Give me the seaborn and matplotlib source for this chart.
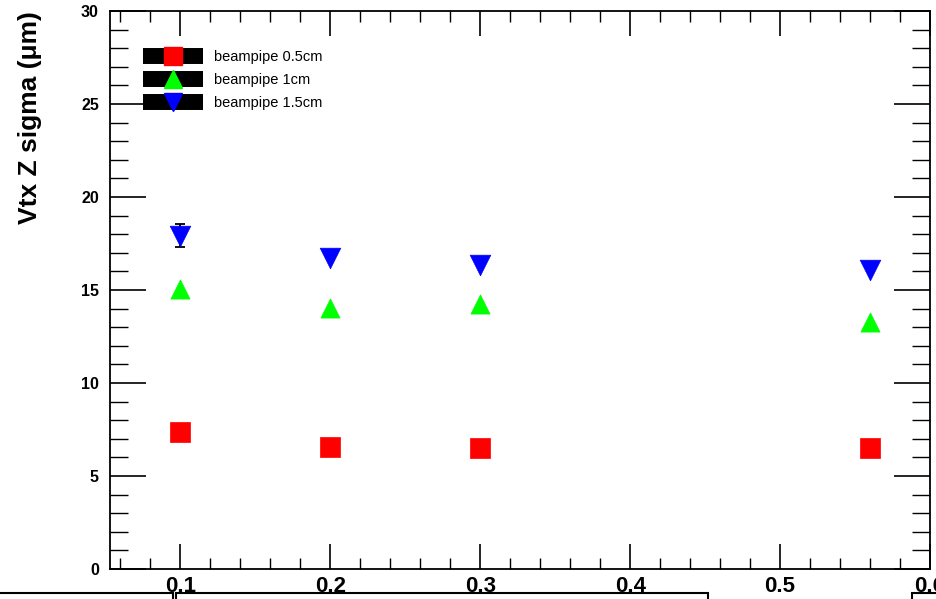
import matplotlib
matplotlib.use("Agg")
import matplotlib.pyplot as plt
import matplotlib.patches as mpatches
from matplotlib.lines import Line2D
from matplotlib.ticker import MultipleLocator
import seaborn as sns
import pandas as pd

# ---- data ----
x_vals = [0.1, 0.2, 0.3, 0.56]
sigma_05 = [7.38, 6.57, 6.52, 6.52]
sigma_10 = [15.08, 14.05, 14.27, 13.3]
sigma_15 = [17.93, 16.7, 16.37, 16.05]
err_05 = [0.0, 0.0, 0.0, 0.0]
err_10 = [0.0, 0.0, 0.0, 0.0]
err_15 = [0.62, 0.0, 0.0, 0.0]
series_names = ["beampipe 0.5cm", "beampipe 1cm", "beampipe 1.5cm"]
colors = {"beampipe 0.5cm": "#ff0000", "beampipe 1cm": "#00ff00", "beampipe 1.5cm": "#0000ff"}
markers = {"beampipe 0.5cm": "s", "beampipe 1cm": "^", "beampipe 1.5cm": "v"}
y_label = "Vtx Z sigma (\u03bcm)"

rows = []
for name, ys, es in zip(series_names, [sigma_05, sigma_10, sigma_15], [err_05, err_10, err_15]):
    for xv, yv, ev in zip(x_vals, ys, es):
        rows.append({"x": xv, "y": yv, "err": ev, "series": name})
df = pd.DataFrame(rows)

sns.set_style("ticks")
plt.rcParams['font.family'] = ['Liberation Sans', 'DejaVu Sans']
plt.rcParams.update({"text.color": "black", "axes.labelcolor": "black",
                     "xtick.color": "black", "ytick.color": "black",
                     "axes.edgecolor": "black"})

fig = plt.figure(figsize=(9.37, 5.99), dpi=100)
ax = fig.add_axes([110 / 937, 30 / 599, 820 / 937, 558 / 599])

# error bars (only where non-zero)
for name in series_names:
    sub = df[(df.series == name) & (df.err > 0)]
    if len(sub):
        ax.errorbar(sub.x, sub.y, yerr=sub.err, fmt="none", ecolor="black",
                    elinewidth=1.3, capsize=3.5, capthick=1.3, zorder=2)

sizes = {"beampipe 0.5cm": 190, "beampipe 1cm": 190, "beampipe 1.5cm": 220}
for name in series_names:
    sub = df[df.series == name]
    sns.scatterplot(data=sub, x="x", y="y", color=colors[name], marker=markers[name],
                    s=sizes[name], edgecolor=colors[name], linewidth=0.5,
                    ax=ax, legend=False, zorder=3)

ax.set_xlim(0.053, 0.6)
ax.set_ylim(0, 30)
ax.xaxis.set_minor_locator(MultipleLocator(0.02))
ax.yaxis.set_major_locator(MultipleLocator(5))
ax.yaxis.set_minor_locator(MultipleLocator(1))
ax.set_xticks([0.1, 0.2, 0.3, 0.4, 0.5, 0.6])
ax.set_xticklabels(["0.1", "0.2", "0.3", "0.4", "0.5", "0.6"])
ax.set_xlabel("")
ax.set_ylabel(y_label, fontsize=19, fontweight="bold", loc="top", color="black")
ax.yaxis.set_label_coords(-0.083, 1.0)

ax.tick_params(axis="x", which="major", direction="in", length=18, width=1.2,
               top=True, bottom=True, labelsize=16, pad=5, colors="black")
ax.tick_params(axis="x", which="minor", direction="in", length=8, width=1,
               top=True, bottom=True, colors="black")
ax.tick_params(axis="y", which="major", direction="in", length=26, width=1.2,
               left=True, right=True, labelsize=11.5, pad=8, colors="black")
ax.tick_params(axis="y", which="minor", direction="in", length=13, width=1,
               left=True, right=True, colors="black")
for lab in ax.get_xticklabels() + ax.get_yticklabels():
    lab.set_fontweight("bold")
for sp in ax.spines.values():
    sp.set_linewidth(1.3)
    sp.set_color("black")

handles = [Line2D([], [], color="black", lw=11.5, solid_capstyle="butt",
                  marker=markers[n], markersize=13,
                  markerfacecolor=colors[n], markeredgecolor=colors[n])
           for n in series_names]
leg = ax.legend(handles, series_names, loc="upper left", bbox_to_anchor=(0.040, 0.93),
                frameon=False, fontsize=10.5, handlelength=4.1, labelspacing=0.62,
                handletextpad=0.8, borderaxespad=0, borderpad=0)
for t in leg.get_texts():
    t.set_color("black")

# bottom boxes seen at the lower edge of the image
for (x0, x1) in [(-2, 173), (176, 708), (912, 940)]:
    fig.patches.append(mpatches.Rectangle((x0 / 937, -0.01), (x1 - x0) / 937, 6.5 / 599 + 0.01,
                                          transform=fig.transFigure, facecolor="white",
                                          edgecolor="black", linewidth=1.5, zorder=10))

fig.savefig("out.png", dpi=100)
